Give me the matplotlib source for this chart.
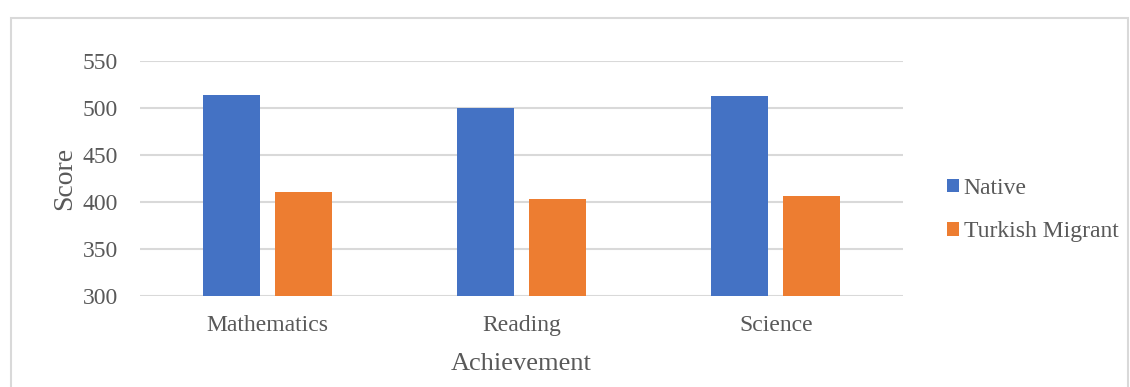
import numpy as np
import matplotlib.pyplot as plt
from matplotlib.patches import Rectangle

categories = ["Mathematics", "Reading", "Science"]
native = [514, 500, 513]
migrant = [411, 403, 406]
series_names = ["Native", "Turkish Migrant"]
yticks = [300, 350, 400, 450, 500, 550]

plt.rcParams['font.family'] = ['Liberation Serif', 'DejaVu Serif']
txt = '#595959'

fig = plt.figure(figsize=(11.3, 3.87), dpi=100)
ax = fig.add_axes([140/1130, 1 - 296/387, (903-140)/1130, (296-61)/387])

x = np.arange(len(categories))
w = 0.224
off = 0.142
ax.bar(x - off, native, w, bottom=0, color='#4472C4', label=series_names[0], zorder=3)
ax.bar(x + off, migrant, w, bottom=0, color='#ED7D31', label=series_names[1], zorder=3)

ax.set_xlim(-0.5, len(categories) - 0.5)
ax.set_ylim(300, 550)
ax.set_yticks(yticks)
ax.yaxis.grid(True, color='#d9d9d9', linewidth=1.5, zorder=0)
ax.set_xticks(x)
ax.set_xticklabels(categories)
for s in ax.spines.values():
    s.set_visible(False)
ax.tick_params(length=0, labelsize=17, colors=txt)
ax.tick_params(axis='x', pad=14)
ax.tick_params(axis='y', pad=16)
ax.set_xlabel("Achievement", fontsize=19, color=txt, labelpad=12)
ax.set_ylabel("Score", fontsize=20, color=txt, labelpad=4)

leg = fig.legend(loc='center left', bbox_to_anchor=(926/1130, 1 - 210/387),
                 frameon=False, fontsize=17, handlelength=0.5, handleheight=0.5,
                 handletextpad=0.2, labelspacing=0.95)
for t in leg.get_texts():
    t.set_color(txt)

fig.patches.append(Rectangle((11/1130, -0.1), (1128-11)/1130, 1 - 18/387 + 0.1,
                             transform=fig.transFigure, fill=False,
                             edgecolor='#d9d9d9', linewidth=1.5))

fig.savefig('out.png', dpi=100)
